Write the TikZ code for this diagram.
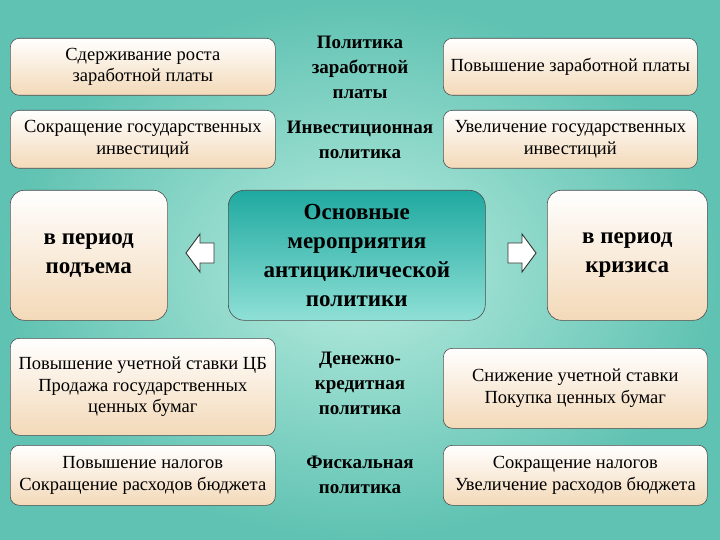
\documentclass[tikz,border=0pt]{standalone}
\usepackage{fontspec}
\setmainfont{Liberation Serif}
\definecolor{bgA}{HTML}{5FC2B2}
\definecolor{bgB}{HTML}{B8ECDF}
\definecolor{boxB}{HTML}{F3D9B8}
\definecolor{ctrA}{HTML}{1FA9A0}
\definecolor{ctrB}{HTML}{8FE0D6}
\tikzset{
 box/.style={draw=black!70,line width=0.6pt,rounded corners=9pt,top color=white,bottom color=boxB,align=center,font=\fontsize{18.5}{21.5}\selectfont,inner sep=2pt,anchor=north west},
 bigbox/.style={box,font=\bfseries\fontsize{23}{29}\selectfont,rounded corners=14pt},
 lbl/.style={align=center,font=\bfseries\fontsize{19}{25}\selectfont},
 barrow/.style={draw=black!80,fill=white,line width=0.9pt,line join=miter}
}
\begin{document}
\begin{tikzpicture}[x=1pt,y=-1pt]
\useasboundingbox (0,0) rectangle (720,540);
\shade[inner color=bgB,outer color=bgA] (0,0) rectangle (720,540);
\node[box,minimum width=265pt,minimum height=57pt] (a1) at (10,38) {Сдерживание роста\\заработной платы};
\node[box,minimum width=265pt,minimum height=58pt] (a2) at (10,110) {Сокращение государственных\\инвестиций};
\node[box,minimum width=254pt,minimum height=57pt] (b1) at (443,38) {Повышение заработной платы};
\node[box,minimum width=254pt,minimum height=58pt] (b2) at (443,110) {Увеличение государственных\\инвестиций};
\node[bigbox,minimum width=157pt,minimum height=130pt] (ml) at (10,190) {в период\\подъема};
\node[bigbox,minimum width=160pt,minimum height=130pt] (mr) at (547,190) {в период\\кризиса};
\node[draw=black!70,line width=0.6pt,rounded corners=16pt,top color=ctrA,bottom color=ctrB,minimum width=257pt,minimum height=130pt,anchor=north west,align=center,font=\bfseries\fontsize{23}{29}\selectfont] (c) at (228,190) {Основные\\мероприятия\\антициклической\\политики};
\node[box,minimum width=265pt,minimum height=97pt] (c1) at (10,338) {Повышение учетной ставки ЦБ\\Продажа государственных\\ценных бумаг};
\node[box,minimum width=265pt,minimum height=60pt] (c2) at (10,445) {Повышение налогов\\Сокращение расходов бюджета};
\node[box,minimum width=264pt,minimum height=80pt] (d1) at (443,348) {Снижение учетной ставки\\Покупка ценных бумаг};
\node[box,minimum width=264pt,minimum height=60pt] (d2) at (443,445) {Сокращение налогов\\Увеличение расходов бюджета};
\node[lbl] (l1) at (360,67) {Политика\\заработной\\платы};
\node[lbl] (l2) at (360,140) {Инвестиционная\\политика};
\node[lbl] (l3) at (360,383) {Денежно-\\кредитная\\политика};
\node[lbl] (l4) at (360,475) {Фискальная\\политика};
\draw[barrow] (214,243) -- (200,243) -- (200,234) -- (186,253) -- (200,272) -- (200,263) -- (214,263) -- cycle;
\draw[barrow] (508,243) -- (522,243) -- (522,234) -- (536,253) -- (522,272) -- (522,263) -- (508,263) -- cycle;
\end{tikzpicture}
\end{document}
